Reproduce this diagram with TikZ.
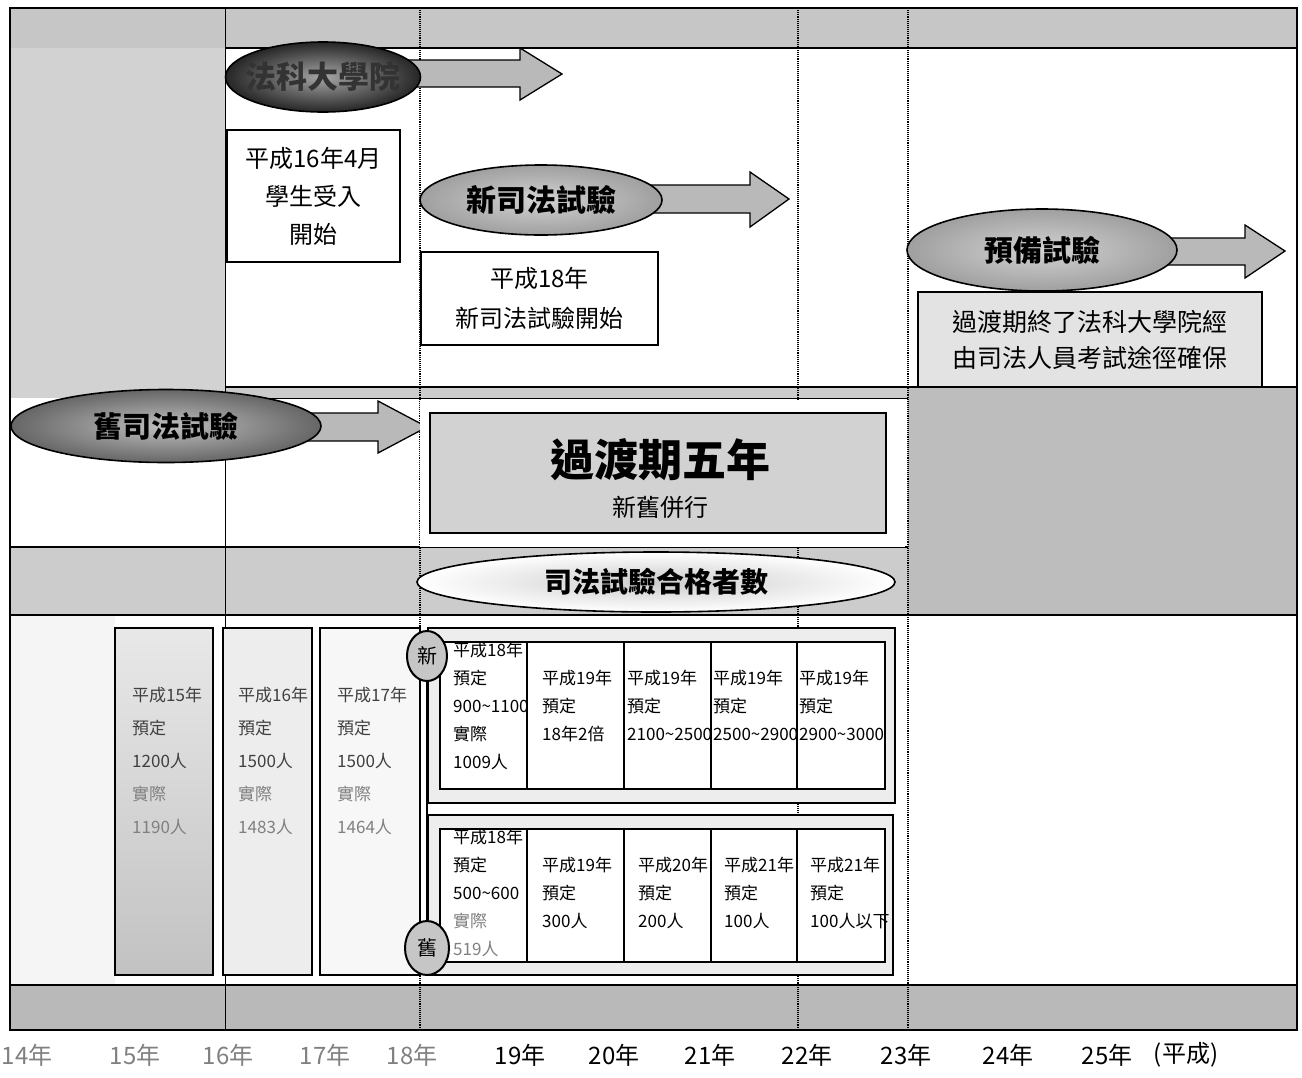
\documentclass[tikz,border=0pt]{standalone}
\usepackage{fontspec}
\setmainfont{Noto Sans CJK TC}
\usetikzlibrary{shapes.geometric}
\begin{document}
\begin{tikzpicture}[x=1pt,y=-1pt]
\tikzset{
 heavy/.style={line width=2.6pt},
 mid/.style={line width=1.6pt},
 thin/.style={line width=0.8pt},
 dots/.style={densely dotted, line width=1.1pt},
 barrow/.style={draw=black, line width=1.3pt, fill=gray!55, line join=miter},
 capsule/.style={ellipse, draw=black, line width=1.6pt, inner sep=0pt},
 box/.style={draw=black, line width=1.2pt, fill=white, align=center, inner sep=0pt},
 cell/.style={anchor=north west, inner sep=0pt, align=left, font=\fontsize{17}{28}\selectfont},
 lcell/.style={anchor=north west, inner sep=0pt, align=left, font=\fontsize{17}{33}\selectfont, text=black!75},
 axis/.style={font=\fontsize{24}{24}\selectfont, inner sep=0pt},
 faded/.style={text=black!50},
 badge/.style={ellipse, draw=black, line width=2pt, fill=gray!45, inner sep=0pt, minimum width=40pt, minimum height=50pt, font=\fontsize{20}{20}\selectfont},
}
\useasboundingbox (0,0) rectangle (1302,1077);
\fill[white] (0,0) rectangle (1302,1077);
% gray regions
\fill[gray!45] (10,8) rectangle (1297,48);
\fill[gray!35] (10,48) rectangle (225,398);
\fill[gray!40] (225,387) rectangle (1297,398);
\fill[gray!52] (908,387) rectangle (1297,615);
\fill[gray!40] (10,547) rectangle (908,615);
\fill[gray!8] (10,615) rectangle (115,985);
\fill[gray!55] (10,985) rectangle (1297,1030);
% dotted time lines
\foreach \xx in {420,798,908} \draw[dots] (\xx,8) -- (\xx,1030);
\draw[thin] (225,8) -- (225,1030);
% structural lines
\draw[heavy] (225,48) -- (1297,48);
\draw[mid] (225,387) -- (1297,387);
\draw[thin] (225,398) -- (908,398);
\draw[mid] (10,547) -- (908,547);
\draw[heavy] (10,615) -- (1297,615);
\draw[heavy] (10,985) -- (1297,985);
\draw[heavy] (10,8) rectangle (1297,1030);

% ===== upper section =====
\draw[barrow] (380,60) -- (520,60) -- (520,48) -- (562,74) -- (520,100) -- (520,87) -- (380,87) -- cycle;
\node[capsule, minimum width=195pt, minimum height=70pt, shade, inner color=gray!70, outer color=black!85] (law) at (323,77) {};
\node[font=\fontsize{31}{31}\selectfont\bfseries, text=black!80, inner sep=0pt] (lawT) at (law) {法科大學院};
\node[box, minimum width=173pt, minimum height=132pt, font=\fontsize{24}{38}\selectfont] (start16) at (313.5,196) {平成16年4月\\學生受入\\開始};

\draw[barrow] (600,185) -- (750,185) -- (750,172) -- (789,199) -- (750,227) -- (750,213) -- (600,213) -- cycle;
\node[capsule, minimum width=242pt, minimum height=70pt, shade, inner color=gray!35, outer color=gray!75] (newexam) at (541,200) {};
\node[font=\fontsize{30}{30}\selectfont\bfseries, inner sep=0pt] (newexamT) at (newexam) {新司法試驗};
\node[box, minimum width=237pt, minimum height=93pt, font=\fontsize{24}{40}\selectfont] (start18) at (539.5,298.5) {平成18年\\新司法試驗開始};

\draw[barrow] (1140,238) -- (1245,238) -- (1245,225) -- (1285,251) -- (1245,278) -- (1245,265) -- (1140,265) -- cycle;
\node[capsule, minimum width=270pt, minimum height=82pt, shade, inner color=gray!35, outer color=gray!75] (prelim) at (1042,250) {};
\node[font=\fontsize{29}{29}\selectfont\bfseries, inner sep=0pt] (prelimT) at (prelim) {預備試驗};
\node[box, fill=gray!22, minimum width=344pt, minimum height=95pt, font=\fontsize{25}{36}\selectfont] (prelimnote) at (1090,339.5) {過渡期終了法科大學院經\\由司法人員考試途徑確保};

% ===== middle section =====
\draw[barrow] (280,413) -- (378,413) -- (378,401) -- (427,427) -- (378,453) -- (378,441) -- (280,441) -- cycle;
\node[capsule, minimum width=310pt, minimum height=73pt, shade, inner color=gray!50, outer color=gray!80!black] (oldexam) at (166,426) {};
\node[font=\fontsize{29}{29}\selectfont\bfseries, inner sep=0pt] (oldexamT) at (oldexam) {舊司法試驗};
\fill[white] (420,400) rectangle (905,547);
\node[draw=black, line width=2pt, fill=gray!35, minimum width=456pt, minimum height=120pt, inner sep=0pt] (transit) at (658,473) {};
\node[font=\fontsize{44}{44}\selectfont\bfseries, inner sep=0pt] (transitT) at (660,460) {過渡期五年};
\node[font=\fontsize{24}{24}\selectfont, inner sep=0pt] (transitS) at (660,507) {新舊併行};
\node[capsule, minimum width=478pt, minimum height=60pt, shade, inner color=gray!40, outer color=white] (passers) at (656,582) {};
\node[font=\fontsize{28}{28}\selectfont\bfseries, inner sep=0pt] (passersT) at (passers) {司法試驗合格者數};

% ===== lower section: yearly counts =====
\shade[top color=gray!18, bottom color=gray!48, draw=black, line width=1.6pt] (115,628) rectangle (213,975);
\draw[mid, fill=gray!14] (223,628) rectangle (312,975);
\draw[mid, fill=gray!6] (320,628) rectangle (420,975);
\node[lcell] (y15) at (132,687) {平成15年\\預定\\1200人\\{\color{gray}實際}\\{\color{gray}1190人}};
\node[lcell] (y16) at (238,687) {平成16年\\預定\\1500人\\{\color{gray}實際}\\{\color{gray}1483人}};
\node[lcell] (y17) at (337,687) {平成17年\\預定\\1500人\\{\color{gray}實際}\\{\color{gray}1464人}};

% new system table
\draw[heavy, fill=gray!14] (428,628) rectangle (895,803);
\draw[mid, fill=white] (440,642) rectangle (885,789);
\foreach \xx in {527,624,711,797} \draw[mid] (\xx,642) -- (\xx,789);
\node[cell] (n18) at (453,642) {平成18年\\預定\\900\textasciitilde1100\\實際\\1009人};
\node[cell] (n19a) at (542,670) {平成19年\\預定\\18年2倍};
\node[cell] (n19b) at (627,670) {平成19年\\預定\\2100\textasciitilde2500};
\node[cell] (n19c) at (713,670) {平成19年\\預定\\2500\textasciitilde2900};
\node[cell] (n19d) at (799,670) {平成19年\\預定\\2900\textasciitilde3000};

% old system table
\draw[heavy, fill=gray!14] (428,815) rectangle (893,975);
\draw[mid, fill=white] (440,829) rectangle (885,962);
\foreach \xx in {527,624,711,797} \draw[mid] (\xx,829) -- (\xx,962);
\node[cell] (o18) at (453,829) {平成18年\\預定\\500\textasciitilde600\\{\color{gray}實際}\\{\color{gray}519人}};
\node[cell] (o19) at (542,857) {平成19年\\預定\\300人};
\node[cell] (o20) at (638,857) {平成20年\\預定\\200人};
\node[cell] (o21a) at (724,857) {平成21年\\預定\\100人};
\node[cell] (o21b) at (810,857) {平成21年\\預定\\100人以下};

% badges new / old
\coordinate (bn) at (427,656);
\coordinate (bo) at (427,948);
\draw[heavy] (bn) -- (bo);
\node[badge] (newbadge) at (bn) {新};
\node[badge, minimum width=44pt, minimum height=54pt] (oldbadge) at (bo) {舊};

% ===== axis =====
\node[axis, faded] (a14) at (27,1055) {14年};
\node[axis, faded] (a15) at (135,1055) {15年};
\node[axis, faded] (a16) at (228,1055) {16年};
\node[axis, faded] (a17) at (325,1055) {17年};
\node[axis, faded] (a18) at (412,1055) {18年};
\node[axis] (a19) at (520,1055) {19年};
\node[axis] (a20) at (614,1055) {20年};
\node[axis] (a21) at (710,1055) {21年};
\node[axis] (a22) at (807,1055) {22年};
\node[axis] (a23) at (906,1055) {23年};
\node[axis] (a24) at (1008,1055) {24年};
\node[axis] (a25) at (1107,1055) {25年};
\node[axis] (aunit) at (1186,1055) {(平成)};
\end{tikzpicture}
\end{document}
